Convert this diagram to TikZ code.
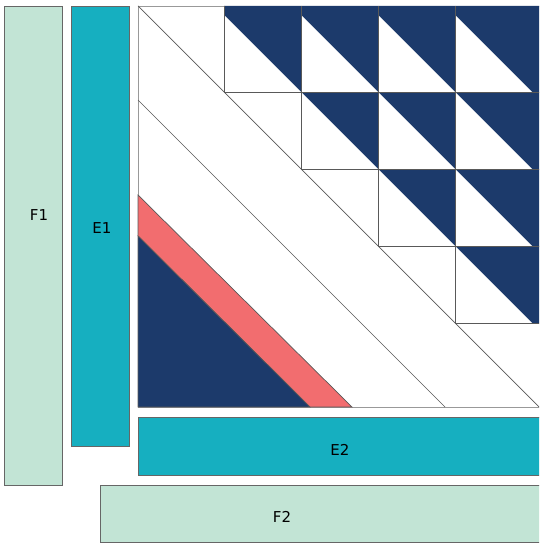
\documentclass[tikz,border=0pt]{standalone}
\usepackage{fontspec}
\setmainfont{DejaVu Sans}
\definecolor{mint}{HTML}{C2E4D5}
\definecolor{teal}{HTML}{16AFC0}
\definecolor{navy}{HTML}{1C3A6B}
\definecolor{coral}{HTML}{F26D6F}
\tikzset{bar/.style = {draw = black!60,
                       line width = 0.8pt},
         lbl/.style = {font = \fontsize{15}{17}\selectfont,
                       inner sep = 0pt},
         grid line/.style = {draw = black!65,
                             line width = 0.7pt}}

\begin{document}
\begin{tikzpicture}[x=1pt, y=-1pt]
		\useasboundingbox (0,0) rectangle (539,545);
		\clip (0,0) rectangle (539,545);
		\draw[draw = black!40, line width = 0.8pt, fill = white] (138,6) rectangle (560,407);
		\fill[navy] (224,6) -- (560,6) -- (560,323) -- (455,323) -- (455,246) -- (378,246)
			-- (378,169) -- (301,169) -- (301,92) -- (224,92) -- cycle;
		\foreach \r in {0,...,3}
			\foreach \c in {\r,...,3}
				\fill[white] (224+77*\c,15+77*\r) -- (224+77*\c,92+77*\r) -- (301+77*\c,92+77*\r) -- cycle;
		\foreach \r in {0,...,3}
			\path[grid line] (224+77*\r,6) -- (224+77*\r,92+77*\r) -- (560,92+77*\r);
		\draw[grid line] (138,6) -- (539,407);
		\draw[grid line] (138,100) -- (445,407);
		\draw[grid line, fill = coral] (138,195) -- (352,407) -- (310,407) -- (138,236) -- cycle;
		\draw[grid line, fill = navy] (138,236) -- (310,407) -- (138,407) -- cycle;
		\draw[bar, fill = mint] (4,6) rectangle (62,485);
		\draw[bar, fill = teal] (71,6) rectangle (129,446);
		\draw[bar, fill = teal] (138,417) rectangle (560,475);
		\draw[bar, fill = mint] (100,485) rectangle (560,542);
		\node[lbl] (F1) at (39,215) {F1};
		\node[lbl] (E1) at (102,228) {E1};
		\node[lbl] (E2) at (340,450) {E2};
		\node[lbl] (F2) at (282,517) {F2};
	\end{tikzpicture}
\end{document}
